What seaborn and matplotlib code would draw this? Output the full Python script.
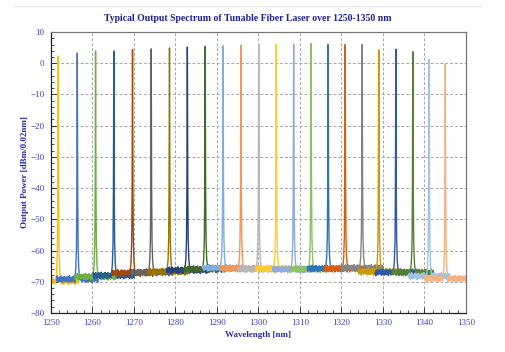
import numpy as np
import pandas as pd
import matplotlib
matplotlib.use('Agg')
import matplotlib.pyplot as plt
import seaborn as sns
from matplotlib.lines import Line2D
from matplotlib.ticker import MultipleLocator

# peak wavelength (nm), peak power (dBm) and noise floor (dBm) of each tuned spectrum
centers = [1251.8, 1256.4, 1260.8, 1265.2, 1269.7, 1274.2, 1278.6, 1282.9, 1287.2,
           1291.5, 1295.8, 1300.1, 1304.3, 1308.5, 1312.7, 1316.8, 1320.9, 1325.0,
           1329.0, 1333.1, 1337.2, 1341.1, 1345.0]
peaks = [2.3, 3.2, 3.9, 3.9, 4.4, 4.6, 4.9, 5.2, 5.4, 5.6, 5.8, 6.0,
         6.1, 6.1, 6.3, 6.0, 6.0, 6.0, 4.3, 4.5, 3.7, 1.3, -0.2]
floors = [-69.8, -69.2, -68.4, -68.0, -67.2, -67.0, -66.8, -66.3, -66.0, -65.6, -65.8, -66.0,
          -65.8, -66.0, -66.0, -65.8, -65.8, -65.6, -66.8, -67.0, -67.0, -68.2, -69.0]
colors = ['#ffc000', '#4472c4', '#70ad47', '#255e91', '#9e480e', '#636363', '#997300',
          '#264478', '#43682b', '#7cafdd', '#f1975a', '#b7b7b7', '#ffcd33', '#8faadc',
          '#8cc168', '#2e75b6', '#d26012', '#848484', '#cc9a00', '#335aa1', '#548235',
          '#9dc3e6', '#f4b183']

# shared line shape of one laser line (offset in nm, fraction of floor->peak)
shape_off = [-0.6, -0.35, -0.2, -0.1, -0.04, 0.0, 0.04, 0.1, 0.2, 0.35, 0.6]
shape_frac = [0.0, 0.05, 0.14, 0.38, 0.78, 1.0, 0.78, 0.38, 0.14, 0.05, 0.0]
# noise floor ripple in dB
ripple = [0.4, -0.6, 0.9, -0.3, 0.1, -1.0, 0.7, 0.2, -0.5, 1.1, -0.8, 0.3, 0.6, -0.2,
          -0.9, 0.5, 0.0, -0.4, 0.8, -0.7, 0.2, 1.0, -0.3, -0.6, 0.4, -1.1, 0.6, 0.1,
          -0.2, 0.9, -0.5, 0.3, -0.8, 0.7, -0.1, 0.5, -0.4]
half_span = 5.0
step = 0.08

rows = []
for k, (c, p, f) in enumerate(zip(centers, peaks, floors)):
    left = np.arange(c - half_span, c + shape_off[0], step)
    right = np.arange(c + shape_off[-1] + step, c + half_span, step)
    j = k * 7
    for x in left:
        rows.append((k, x, f + ripple[j % len(ripple)]))
        j += 1
    for o, fr in zip(shape_off, shape_frac):
        rows.append((k, c + o, f + fr * (p - f)))
    for x in right:
        rows.append((k, x, f + ripple[j % len(ripple)]))
        j += 1
df = pd.DataFrame(rows, columns=['trace', 'wl', 'dbm'])

sns.set_style('ticks')
plt.rcParams['font.family'] = ['Liberation Serif', 'DejaVu Serif']

fig = plt.figure(figsize=(5.05, 3.52), dpi=100)
ax = fig.add_axes([0.1004, 0.111, 0.8224, 0.798])

sns.lineplot(data=df, x='wl', y='dbm', hue='trace', palette=colors, legend=False,
             estimator=None, sort=False, linewidth=1.0, ax=ax)

ax.set_xlim(1250, 1350)
ax.set_ylim(-80, 10)
ax.xaxis.set_major_locator(MultipleLocator(10))
ax.xaxis.set_minor_locator(MultipleLocator(2))
ax.yaxis.set_major_locator(MultipleLocator(10))
ax.yaxis.set_minor_locator(MultipleLocator(2))
ax.grid(True, which='major', color='#a6a6a6', linestyle=(0, (3, 2)), linewidth=0.7)
ax.set_axisbelow(True)

lab = '#4040c4'
ax.tick_params(which='major', direction='in', length=4, width=0.7, colors='#333333',
               labelcolor=lab, labelsize=6.5, pad=4.5)
ax.tick_params(which='minor', direction='in', length=2, width=0.6, colors='#333333')
ax.tick_params(top=False, right=False, which='both')
for s in ['left', 'bottom']:
    ax.spines[s].set_color('#222222')
    ax.spines[s].set_linewidth(0.9)
for s in ['top', 'right']:
    ax.spines[s].set_color('#777777')
    ax.spines[s].set_linewidth(0.9)

ax.set_xlabel('Wavelength [nm]', color='#2a2aa8', fontsize=6.5, fontweight='bold', labelpad=3)
ax.set_ylabel('Output Power [dBm/0.02nm]', color='#2a2aa8', fontsize=6.5, fontweight='bold',
              labelpad=1)
fig.text(0.49, 0.948, 'Typical Output Spectrum of Tunable Fiber Laser over 1250-1350 nm',
         ha='center', va='center', color='#1f1f99', fontsize=7.0, fontweight='bold')
fig.add_artist(Line2D([13 / 505, 481 / 505], [1 - 6 / 352, 1 - 6 / 352],
                      color='#e4e4e4', linewidth=0.8))

fig.savefig('out.png', dpi=100)
